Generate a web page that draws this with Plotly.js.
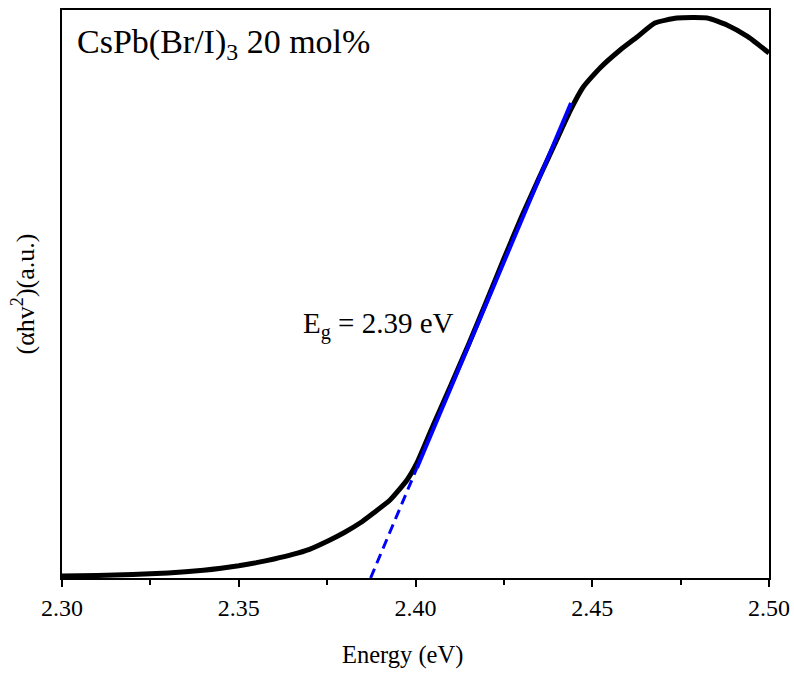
<!DOCTYPE html>
<html>
<head>
<meta charset="utf-8">
<script src="https://cdn.plot.ly/plotly-3.0.1.min.js"></script>
<style>html,body{margin:0;padding:0;background:#fff;}#chart{width:794px;height:675px;}</style>
</head>
<body>
<div id="chart"></div>
<script>
// Measured spectrum (Tauc plot), arbitrary units
const energy = [2.300, 2.310, 2.320, 2.330, 2.340, 2.345, 2.350, 2.355, 2.360, 2.365, 2.370, 2.3758, 2.380, 2.3843, 2.388, 2.3928, 2.3976, 2.4004, 2.405, 2.410, 2.415, 2.420, 2.425, 2.430, 2.435, 2.440, 2.4437, 2.4474, 2.4522, 2.4579, 2.4627, 2.4677, 2.4740, 2.4825, 2.4881, 2.4940, 2.500];
const absorb = [0.35, 0.44, 0.62, 0.90, 1.35, 1.70, 2.15, 2.70, 3.35, 4.10, 5.05, 6.69, 8.05, 9.68, 11.40, 13.73, 17.25, 20.25, 26.90, 33.95, 41.10, 48.60, 56.20, 63.60, 70.50, 77.20, 82.20, 86.40, 89.80, 92.96, 95.25, 97.71, 98.59, 98.59, 97.36, 95.30, 92.43];
// Linear fit (solid) and its extrapolation (dashed)
const fitE = [2.4004, 2.4440];
const fitY = [19.37, 83.63];
const extE = [2.3873, 2.4004];
const extY = [0, 19.37];
const xTicks = [2.30, 2.35, 2.40, 2.45, 2.50];
const xTickText = ["2.30", "2.35", "2.40", "2.45", "2.50"];
const xTitle = "Energy (eV)";
const yTitle = "(αhv<sup>2</sup>)(a.u.)";
const sampleLabel = "CsPb(Br/I)<sub>3</sub> 20 mol%";
const gapLabel = "E<sub>g</sub> = 2.39 eV";
const gapPos = [2.3675, 44.5];

const font = "'Liberation Serif', serif";

const traces = [
  {x: energy, y: absorb, mode: "lines", line: {color: "#000", width: 5, shape: "spline", smoothing: 0.5}, hoverinfo: "skip"},
  {x: extE, y: extY, mode: "lines", line: {color: "#0000ff", width: 3, dash: "10px,6px"}, hoverinfo: "skip"},
  {x: fitE, y: fitY, mode: "lines", line: {color: "#0000ff", width: 4}, hoverinfo: "skip"}
];

const layout = {
  width: 794, height: 675,
  margin: {l: 62, r: 25, t: 10, b: 97},
  paper_bgcolor: "#fff", plot_bgcolor: "#fff",
  showlegend: false,
  font: {family: font, color: "#000", size: 24},
  xaxis: {
    range: [2.30, 2.50],
    tickvals: xTicks, ticktext: xTickText,
    ticks: "outside", ticklen: 7, tickwidth: 2, tickcolor: "#000",
    minor: {dtick: 0.025, tick0: 2.30, ticks: "outside", ticklen: 5, tickwidth: 2, tickcolor: "#000"},
    showline: true, linecolor: "#000", linewidth: 2, mirror: true,
    showgrid: false, zeroline: false,
    tickfont: {family: font, size: 24, color: "#000"}
  },
  yaxis: {
    range: [0, 100],
    showticklabels: false, ticks: "",
    showline: true, linecolor: "#000", linewidth: 2, mirror: true,
    showgrid: false, zeroline: false,
    title: {text: yTitle, font: {family: font, size: 26, color: "#000"}, standoff: 18}
  },
  annotations: [
    {xref: "paper", yref: "paper", x: 0.482, y: -0.1356, xanchor: "center", yanchor: "middle",
     text: xTitle, showarrow: false, font: {family: font, size: 24.5, color: "#000"}},
    {xref: "paper", yref: "paper", x: 0.019, y: 0.98, xanchor: "left", yanchor: "top",
     text: sampleLabel, showarrow: false, font: {family: font, size: 34, color: "#000"}},
    {x: gapPos[0], y: gapPos[1], xanchor: "left", yanchor: "middle",
     text: gapLabel, showarrow: false, font: {family: font, size: 29, color: "#000"}}
  ]
};

Plotly.newPlot("chart", traces, layout, {displayModeBar: false, staticPlot: true});
</script>
</body>
</html>
